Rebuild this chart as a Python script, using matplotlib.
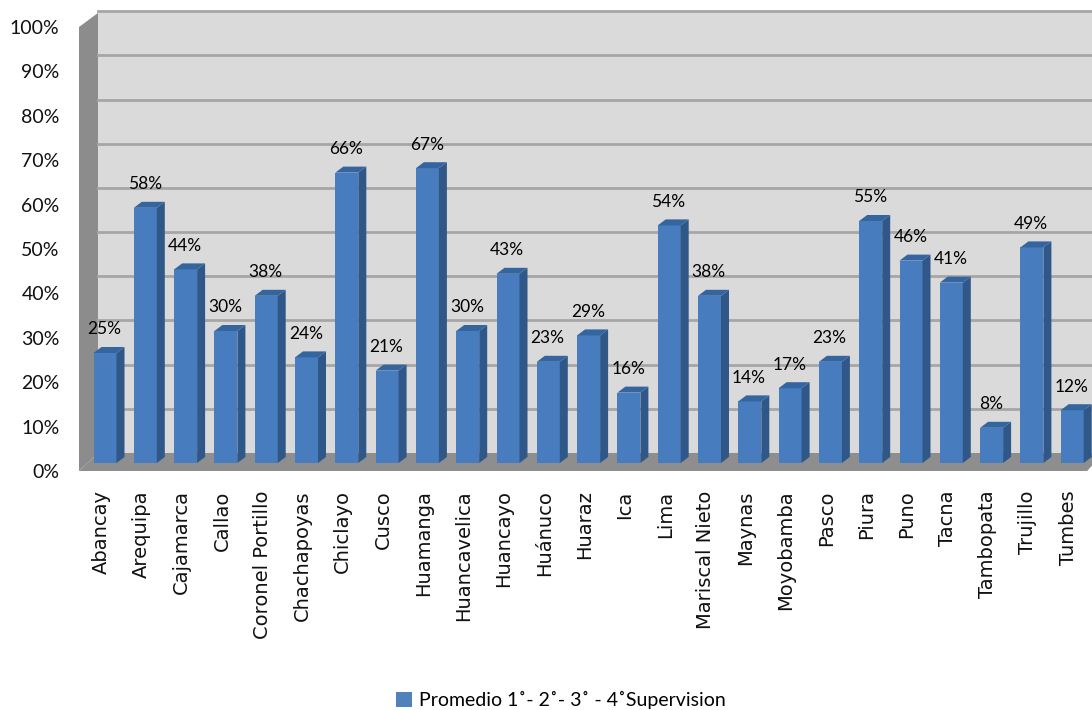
import matplotlib
matplotlib.use("Agg")
from matplotlib import pyplot as plt
from matplotlib.patches import Polygon, Rectangle
from matplotlib.transforms import ScaledTranslation

categories = ["Abancay", "Arequipa", "Cajamarca", "Callao", "Coronel Portillo",
              "Chachapoyas", "Chiclayo", "Cusco", "Huamanga", "Huancavelica",
              "Huancayo", "Huánuco", "Huaraz", "Ica", "Lima", "Mariscal Nieto",
              "Maynas", "Moyobamba", "Pasco", "Piura", "Puno", "Tacna",
              "Tambopata", "Trujillo", "Tumbes"]
values = [25, 58, 44, 30, 38, 24, 66, 21, 67, 30, 43, 23, 29, 16, 54, 38,
          14, 17, 23, 55, 46, 41, 8, 49, 12]
y_ticks = [0, 10, 20, 30, 40, 50, 60, 70, 80, 90, 100]
legend_label = "Promedio 1˚- 2˚- 3˚ - 4˚Supervision"

W, H = 1092, 710
fig = plt.figure(figsize=(W / 100, H / 100), dpi=100)

# axes is the front plane of the fake 3d box: 79..1092 px, 0% at 471, 100% at 27
ax = fig.add_axes([79 / W, 1 - 471 / H, (1092 - 79) / W, (471 - 27) / H])
x_step = 40.3
x0 = (79 - 105) / x_step
x1 = (1092 - 105) / x_step
ax.set_xlim(x0, x1)
ax.set_ylim(0, 100)
for s in ax.spines.values():
    s.set_visible(False)

y_unit = 4.44
wall_dx = 19 / x_step
wall_dy = 18 / y_unit
bar_base = 8 / y_unit
bar_scale = 4.4 / y_unit
bar_w = 23 / x_step
bar_dx = 8 / x_step
bar_dy = 6 / y_unit

# walls and floor
ax.add_patch(Rectangle((x0 + wall_dx, wall_dy), x1 - x0 - wall_dx, 100 * 0.995,
                       fc="#DADADA", ec="none", clip_on=False, zorder=1))
ax.add_patch(Polygon([(x0, 0), (x0 + wall_dx, wall_dy), (x0 + wall_dx, 100 + wall_dy * 0.78), (x0, 100)],
                     fc="#8C8C8C", ec="none", clip_on=False, zorder=1))
ax.add_patch(Polygon([(x0, 0), (x0 + wall_dx, wall_dy), (x1, wall_dy), (x1, 1.2), (x1 - 0.12, 0)],
                     fc="#8E8E8E", ec="none", clip_on=False, zorder=1.5))

# gridlines on the back wall
for t in y_ticks[1:]:
    gy = wall_dy + t * 0.995
    ax.plot([x0 + wall_dx, x1], [gy, gy], color="#A6A6A6", lw=2, clip_on=False, zorder=1.2)

# bars
xs = list(range(len(categories)))
heights = [v * bar_scale for v in values]
ax.bar(xs, heights, width=bar_w, bottom=bar_base, color="#477CBE", zorder=3)
for x, h in zip(xs, heights):
    left = x - bar_w / 2
    right = x + bar_w / 2
    top = bar_base + h
    ax.add_patch(Polygon([(right, bar_base), (right + bar_dx, bar_base + bar_dy),
                          (right + bar_dx, top + bar_dy), (right, top)],
                         fc="#2F5888", ec="none", zorder=3))
    ax.add_patch(Polygon([(left, top), (left + bar_dx, top + bar_dy),
                          (right + bar_dx, top + bar_dy), (right, top)],
                         fc="#35659F", ec="none", zorder=3))

# data labels
for x, h, v in zip(xs, heights, values):
    ax.annotate(f"{v}%", (x, bar_base + h), xytext=(-0.5, 17), textcoords="offset points",
                ha="center", va="center", family="Lato", fontsize=12.5, color="#000000", zorder=5)

ax.set_yticks(y_ticks)
ax.set_yticklabels([f"{t}%" for t in y_ticks], family="Lato", fontsize=14, color="#111111")
ax.set_xticks(xs)
ax.set_xticklabels(categories, rotation=90, family="DejaVu Sans", fontsize=14, color="#111111")
ax.tick_params(axis="y", length=0, pad=14)
ax.tick_params(axis="x", length=0, pad=14)
# x labels sit a bit left of the bar centres
shift = ScaledTranslation(-4 / 100, 0, fig.dpi_scale_trans)
for lab in ax.get_xticklabels():
    lab.set_transform(lab.get_transform() + shift)

# legend
legend_handle = Rectangle((0, 0), 1, 1, fc="#4F81BD", ec="none")
fig.legend([legend_handle], [legend_label], loc="center", bbox_to_anchor=(561 / W, 1 - 700 / H),
           frameon=False, prop={"family": "Lato", "size": 14}, handlelength=0.8,
           handleheight=0.8, handletextpad=0.4, borderpad=0)

fig.savefig("out.png", dpi=100)
